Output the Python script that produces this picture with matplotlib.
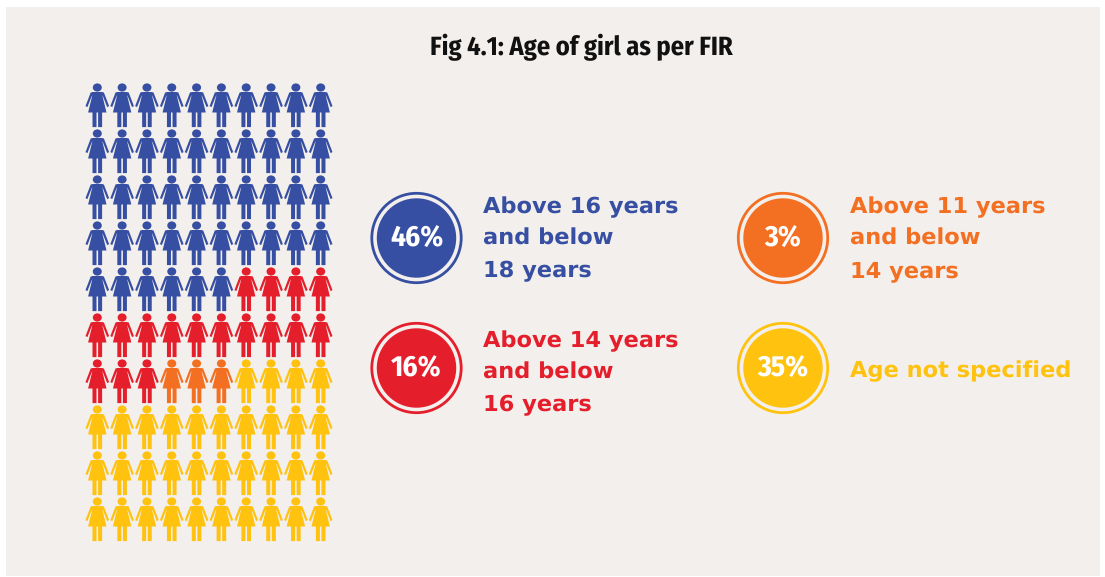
import matplotlib
matplotlib.use('Agg')
import matplotlib.pyplot as plt
from matplotlib.patches import Circle, PathPatch, Rectangle
from matplotlib.path import Path
from matplotlib.transforms import Affine2D
import numpy as np

plt.rcParams['text.hinting'] = 'none'

title = 'Fig 4.1: Age of girl as per FIR'
colors = ['#364fa2', '#e41e2b', '#f36f21', '#fec20f']
pct_labels = ['46%', '16%', '3%', '35%']
labels = [['Above 16 years', 'and below', '18 years'],
          ['Above 14 years', 'and below', '16 years'],
          ['Above 11 years', 'and below', '14 years'],
          ['Age not specified']]
# number of figures per group, counted off the picture
icon_counts = [46, 17, 3, 34]

per_row = 10

W = 1105
H = 577
narrow = ['Fira Sans Condensed', 'Barlow Condensed', 'Liberation Sans']

fig = plt.figure(figsize=(W / 100, H / 100), dpi=100)
ax = fig.add_axes([0, 0, 1, 1])
ax.set_xlim(0, W)
ax.set_ylim(H, 0)
ax.axis('off')
ax.add_patch(Rectangle((6, 7), 1094, 569, fc='#f3efec', ec='none'))

# one girl, head centre at 0,0
head = Path.unit_circle().transformed(Affine2D().scale(4.5, 4.1))
body = [(-4.5, 4.5), (4.5, 4.5), (6.6, 5.0), (11.8, 18.6), (9.9, 19.6), (5.9, 9.5), (4.9, 7.5),
        (9.2, 25.0), (4.8, 25.0), (4.8, 39.6), (0.8, 39.6), (0.8, 25.0), (-0.8, 25.0),
        (-0.8, 39.6), (-4.8, 39.6), (-4.8, 25.0), (-9.2, 25.0), (-4.9, 7.5), (-5.9, 9.5),
        (-9.9, 19.6), (-11.8, 18.6), (-6.6, 5.0)]
body = Path(body + body[:1], [Path.MOVETO] + [Path.LINETO] * (len(body) - 1) + [Path.CLOSEPOLY])
girl = Path.make_compound_path(head, body)

group = np.repeat(np.arange(len(icon_counts)), icon_counts)
for k, g in enumerate(group):
    r, c = divmod(k, per_row)
    x = 97.3 + c * 24.82
    y = 87.5 + r * 46.0
    ax.add_patch(PathPatch(girl.transformed(Affine2D().translate(x, y)), fc=colors[g], ec='none'))

ax.text(581, 55, title, ha='center', va='baseline', fontsize=19, fontweight='bold',
        family=narrow, color='#111111')

cx = [416.5, 416.5, 783, 783]
cy = [238, 368, 238, 368]
tx = [483, 483, 850, 850]
ty = [213, 347, 213, 377]
for i in range(4):
    ax.add_patch(Circle((cx[i], cy[i]), 44.7, fc='none', ec=colors[i], lw=2.0))
    ax.add_patch(Circle((cx[i], cy[i]), 39.7, fc=colors[i], ec='none'))
    ax.text(cx[i], cy[i] + 8.5, pct_labels[i], ha='center', va='baseline', color='white',
            fontsize=21, fontweight='bold', family=narrow)
    for n, line in enumerate(labels[i]):
        ax.text(tx[i], ty[i] + n * 32, line, ha='left', va='baseline', color=colors[i],
                fontsize=16.2, fontweight='bold', family='DejaVu Sans')

fig.savefig('out.png', dpi=100)
